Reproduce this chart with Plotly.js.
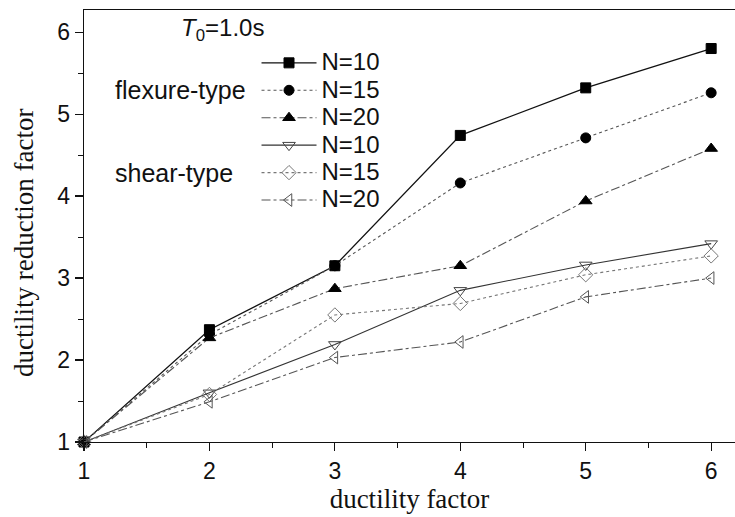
<!DOCTYPE html>
<html>
<head>
<meta charset="utf-8">
<script src="https://cdn.plot.ly/plotly-3.0.1.min.js"></script>
<style>
  html, body { margin: 0; padding: 0; background: #fff; }
  #chart { width: 735px; height: 517px; }
</style>
</head>
<body>
<div id="chart"></div>
<script>
// ductility factor (x) and the ductility reduction factor of each system
const ductility = [1, 2, 3, 4, 5, 6];

const flexN10 = [1.00, 2.37, 3.15, 4.74, 5.32, 5.80];
const flexN15 = [1.00, 2.31, 3.15, 4.16, 4.71, 5.26];
const flexN20 = [1.00, 2.27, 2.87, 3.15, 3.94, 4.58];
const shearN10 = [1.00, 1.60, 2.19, 2.85, 3.16, 3.42];
const shearN15 = [1.00, 1.58, 2.55, 2.69, 3.04, 3.27];
const shearN20 = [1.00, 1.49, 2.03, 2.22, 2.77, 3.00];

const seriesNames = ['N=10', 'N=15', 'N=20', 'N=10', 'N=15', 'N=20'];

// legend rows are spaced by the legend font size; the label text itself is set larger
const legendLabel = n => '<span style="font-size:24px">' + n + '</span>';

function series(y, name, sym, size, lineColor, dash, width, group, markerColor) {
  return {
    x: ductility, y: y, name: legendLabel(name), type: 'scatter', mode: 'lines+markers',
    legendgroup: group,
    line: { color: lineColor, dash: dash, width: width },
    marker: { symbol: sym, size: size, color: markerColor,
              line: { color: markerColor, width: 1 } },
    cliponaxis: false
  };
}

const traces = [
  series(flexN10, seriesNames[0], 'square', 10, '#111', 'solid', 1.3, 'g1', '#000'),
  series(flexN15, seriesNames[1], 'circle', 10, '#555', 'dot', 1.1, 'g2', '#000'),
  series(flexN20, seriesNames[2], 'triangle-up', 11, '#555', 'dashdot', 1.1, 'g3', '#000'),
  series(shearN10, seriesNames[3], 'triangle-down-open', 11, '#333', 'solid', 1.1, 'g4', '#444'),
  series(shearN15, seriesNames[4], 'diamond-open', 11, '#777', 'dot', 1.1, 'g5', '#777'),
  series(shearN20, seriesNames[5], 'triangle-left-open', 11, '#555', 'dashdot', 1.1, 'g6', '#555')
];

const sans = 'Liberation Sans, Arial, sans-serif';
const serif = 'Liberation Serif, Times New Roman, serif';
const tickFont = { family: sans, size: 23, color: '#111' };

const layout = {
  width: 735, height: 517,
  margin: { l: 84, r: 0, t: 10, b: 75 },
  paper_bgcolor: '#fff', plot_bgcolor: '#fff',
  showlegend: true,
  legend: {
    x: 0.265, y: 0.921, xanchor: 'left', yanchor: 'top',
    font: { family: sans, size: 18.8, color: '#111' },
    bgcolor: 'rgba(0,0,0,0)', tracegroupgap: 0, itemwidth: 55
  },
  xaxis: {
    range: [1, 6.19], tickvals: ductility, ticktext: ductility.map(String),
    showgrid: false, zeroline: false,
    showline: true, linecolor: '#111', linewidth: 1.3, mirror: true,
    ticks: 'outside', ticklen: 8, tickwidth: 1.2, tickcolor: '#111',
    minor: { dtick: 0.5, tick0: 1, ticks: 'outside', ticklen: 5, tickwidth: 1, tickcolor: '#111', showgrid: false },
    tickfont: tickFont,
    title: { text: 'ductility factor', font: { family: serif, size: 27, color: '#111' }, standoff: 4 }
  },
  yaxis: {
    range: [1, 6.27], tickvals: [1, 2, 3, 4, 5, 6],
    showgrid: false, zeroline: false,
    showline: true, linecolor: '#111', linewidth: 1.3,
    ticks: 'outside', ticklen: 8, tickwidth: 1.2, tickcolor: '#111',
    minor: { dtick: 0.5, tick0: 1, ticks: 'outside', ticklen: 5, tickwidth: 1, tickcolor: '#111', showgrid: false },
    tickfont: tickFont
  },
  annotations: [
    // vertical axis title, set a little below the centre of the axis
    { xref: 'paper', yref: 'paper', x: -0.092, y: 0.461, xanchor: 'center', yanchor: 'middle',
      text: 'ductility reduction factor', textangle: -90, showarrow: false,
      font: { family: serif, size: 27, color: '#111' } },
    { xref: 'paper', yref: 'paper', x: 0.1457, y: 0.954, xanchor: 'left', yanchor: 'middle',
      text: '<i>T</i><sub>0</sub>=1.0s', showarrow: false,
      font: { family: sans, size: 24, color: '#111' } },
    { xref: 'paper', yref: 'paper', x: 0.0445, y: 0.815, xanchor: 'left', yanchor: 'middle',
      text: 'flexure-type', showarrow: false,
      font: { family: sans, size: 25, color: '#111' } },
    { xref: 'paper', yref: 'paper', x: 0.0445, y: 0.623, xanchor: 'left', yanchor: 'middle',
      text: 'shear-type', showarrow: false,
      font: { family: sans, size: 25, color: '#111' } }
  ]
};

Plotly.newPlot('chart', traces, layout, { displayModeBar: false, staticPlot: true });
</script>
</body>
</html>
